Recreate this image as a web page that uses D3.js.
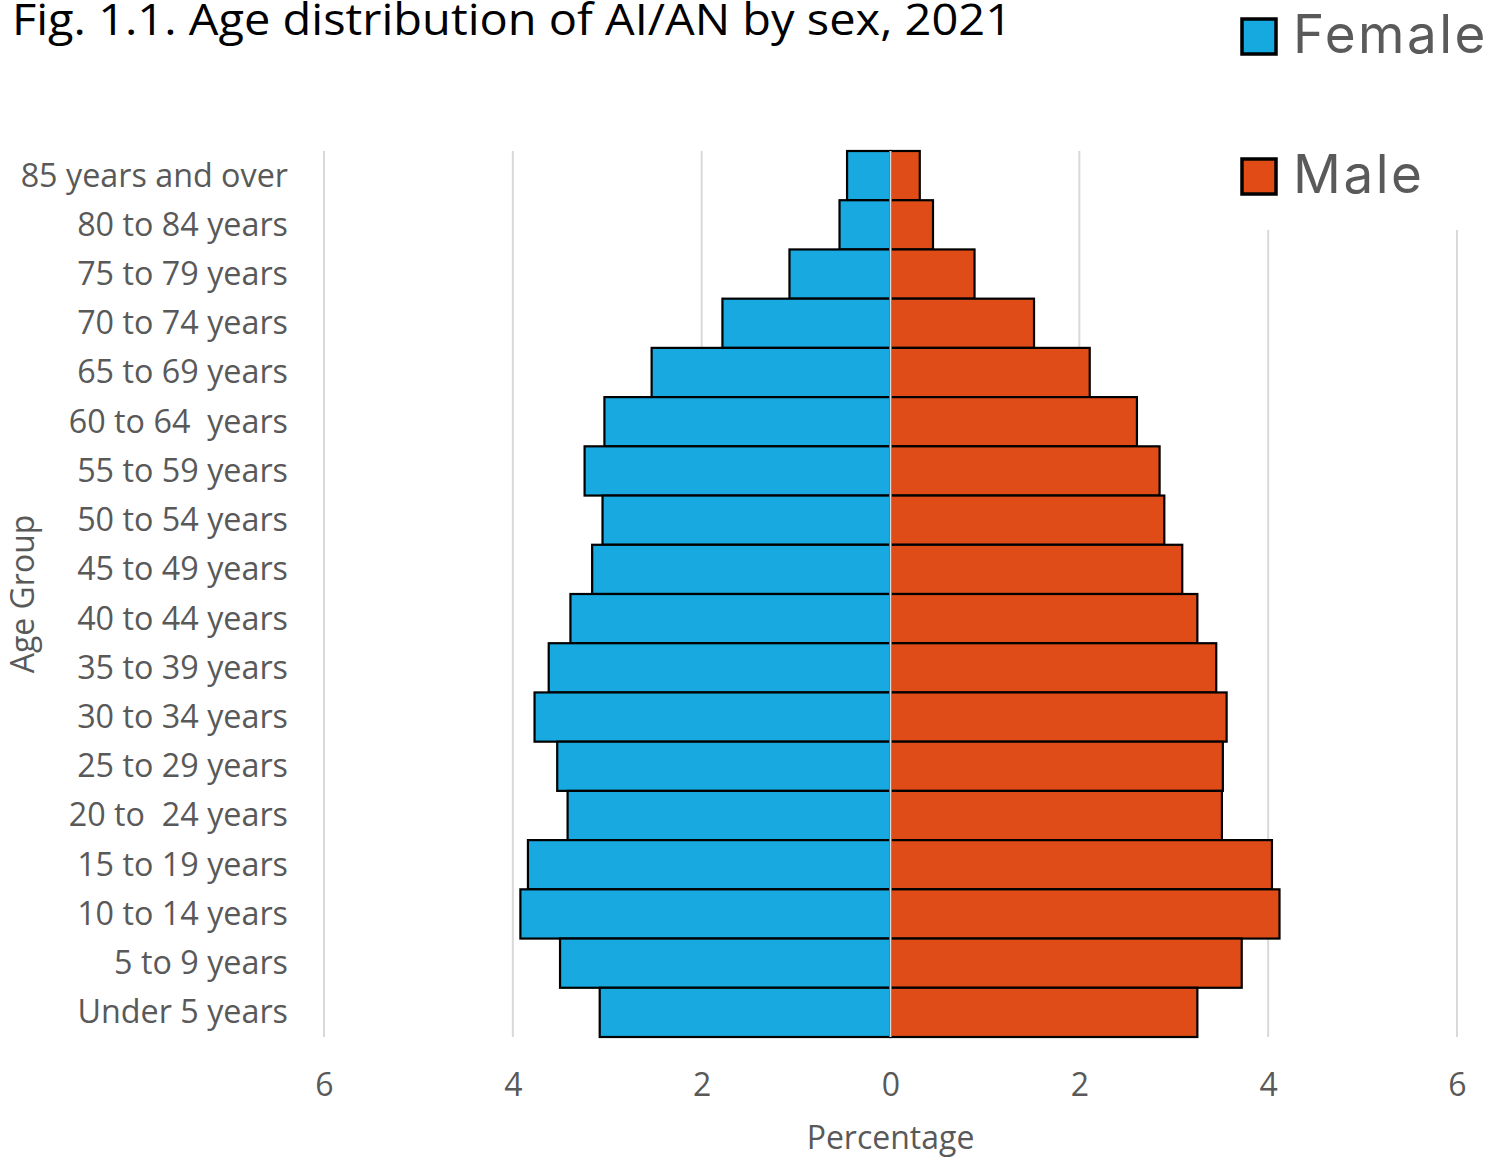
<!DOCTYPE html>
<html>
<head>
<meta charset="utf-8">
<script src="https://cdn.jsdelivr.net/npm/d3@7"></script>
<style>
  html, body { margin: 0; padding: 0; background: #fff; }
  svg { display: block; }
</style>
</head>
<body>
<svg id="chart" width="1491" height="1161"></svg>
<script>
// Age groups listed from oldest (top) to youngest (bottom)
const ageGroups = [
  "85 years and over", "80 to 84 years", "75 to 79 years", "70 to 74 years",
  "65 to 69 years", "60 to 64  years", "55 to 59 years", "50 to 54 years",
  "45 to 49 years", "40 to 44 years", "35 to 39 years", "30 to 34 years",
  "25 to 29 years", "20 to  24 years", "15 to 19 years", "10 to 14 years",
  "5 to 9 years", "Under 5 years"
];
// Share of the AI/AN population (%) in each age group
const femalePct = [0.46, 0.54, 1.07, 1.78, 2.53, 3.03, 3.24, 3.05, 3.16, 3.39,
                   3.62, 3.77, 3.53, 3.42, 3.84, 3.92, 3.50, 3.08];
const malePct   = [0.31, 0.45, 0.89, 1.52, 2.11, 2.61, 2.85, 2.90, 3.09, 3.25,
                   3.45, 3.56, 3.52, 3.51, 4.04, 4.12, 3.72, 3.25];
const xTicks = [-6, -4, -2, 0, 2, 4, 6];
const seriesNames = ["Female", "Male"];
const seriesColors = ["#17A9DF", "#E04C17"];

const rows = ageGroups.map((g, i) => ({ group: g, female: femalePct[i], male: malePct[i] }));

const svg = d3.select("#chart");
const labelFont = "'Open Sans', sans-serif";
const grey = "#595959";

const plot = { left: 324, right: 1457, top: 151, bottom: 1037 };

const x = d3.scaleLinear().domain([-6, 6]).range([plot.left, plot.right]);
const y = d3.scaleBand().domain(ageGroups).range([plot.top, plot.bottom]).padding(0);

// Soft edge for the legend entries
svg.append("defs").append("filter")
  .attr("id", "soft")
  .append("feGaussianBlur").attr("stdDeviation", 0.7);

// Title
svg.append("text")
  .attr("x", 12).attr("y", 35)
  .attr("font-family", labelFont)
  .attr("font-size", 44)
  .attr("fill", "#000")
  .attr("textLength", 1000)
  .attr("lengthAdjust", "spacingAndGlyphs")
  .text("Fig. 1.1. Age distribution of AI/AN by sex, 2021");

// Vertical gridlines
svg.append("g").selectAll("line")
  .data(xTicks.filter(t => t !== 0))
  .join("line")
  .attr("x1", d => x(d)).attr("x2", d => x(d))
  .attr("y1", plot.top).attr("y2", plot.bottom)
  .attr("stroke", "#d9d9d9").attr("stroke-width", 2);

// Bars
const bars = svg.append("g");
bars.selectAll("rect.female")
  .data(rows).join("rect")
  .attr("class", "female")
  .attr("x", d => x(-d.female))
  .attr("width", d => x(0) - x(-d.female))
  .attr("y", d => y(d.group))
  .attr("height", y.bandwidth())
  .attr("fill", seriesColors[0])
  .attr("stroke", "#000").attr("stroke-width", 2.2);

bars.selectAll("rect.male")
  .data(rows).join("rect")
  .attr("class", "male")
  .attr("x", x(0))
  .attr("width", d => x(d.male) - x(0))
  .attr("y", d => y(d.group))
  .attr("height", y.bandwidth())
  .attr("fill", seriesColors[1])
  .attr("stroke", "#000").attr("stroke-width", 2.2);

// Zero line
svg.append("line")
  .attr("x1", x(0)).attr("x2", x(0))
  .attr("y1", plot.top).attr("y2", plot.bottom)
  .attr("stroke", "#d9d9d9").attr("stroke-width", 2);

// Category labels
const yAxis = d3.axisLeft(y).tickSize(0).tickPadding(0);
const gy = svg.append("g").attr("transform", `translate(288,0)`).call(yAxis);
gy.select(".domain").remove();
gy.selectAll("text")
  .attr("font-family", labelFont)
  .attr("font-size", 32.3)
  .attr("fill", grey)
  .attr("dy", "0.34em")
  .style("white-space", "pre");

// Percentage axis (absolute values on both sides)
const xAxis = d3.axisBottom(x).tickValues(xTicks).tickSize(0).tickPadding(0)
  .tickFormat(d => Math.abs(d));
const gx = svg.append("g").attr("transform", `translate(0,1096)`).call(xAxis);
gx.select(".domain").remove();
gx.selectAll("text")
  .attr("font-family", labelFont)
  .attr("font-size", 32)
  .attr("fill", grey)
  .attr("dy", 0);

// Axis titles
svg.append("text")
  .attr("x", x(0)).attr("y", 1149)
  .attr("text-anchor", "middle")
  .attr("font-family", labelFont).attr("font-size", 32).attr("fill", grey)
  .text("Percentage");

svg.append("text")
  .attr("transform", "translate(34,594) rotate(-90)")
  .attr("text-anchor", "middle")
  .attr("font-family", labelFont).attr("font-size", 32).attr("fill", grey)
  .text("Age Group");

// Legend (white panel over the upper-right of the plot area)
const legend = svg.append("g");
legend.append("rect")
  .attr("x", 1232).attr("y", 0).attr("width", 259).attr("height", 230)
  .attr("fill", "#fff");
const legendY = [36, 176];
const legendItems = legend.append("g").attr("filter", "url(#soft)");
seriesNames.forEach((name, i) => {
  legendItems.append("rect")
    .attr("x", 1242).attr("y", legendY[i] - 17)
    .attr("width", 34).attr("height", 35)
    .attr("fill", seriesColors[i])
    .attr("stroke", "#000").attr("stroke-width", 3.5);
  legendItems.append("text")
    .attr("x", 1293).attr("y", legendY[i] + 17)
    .attr("font-family", "Inter, sans-serif")
    .attr("font-size", 53)
    .attr("letter-spacing", 2.5)
    .attr("fill", "#5a5a5a")
    .text(name);
});
</script>
</body>
</html>
